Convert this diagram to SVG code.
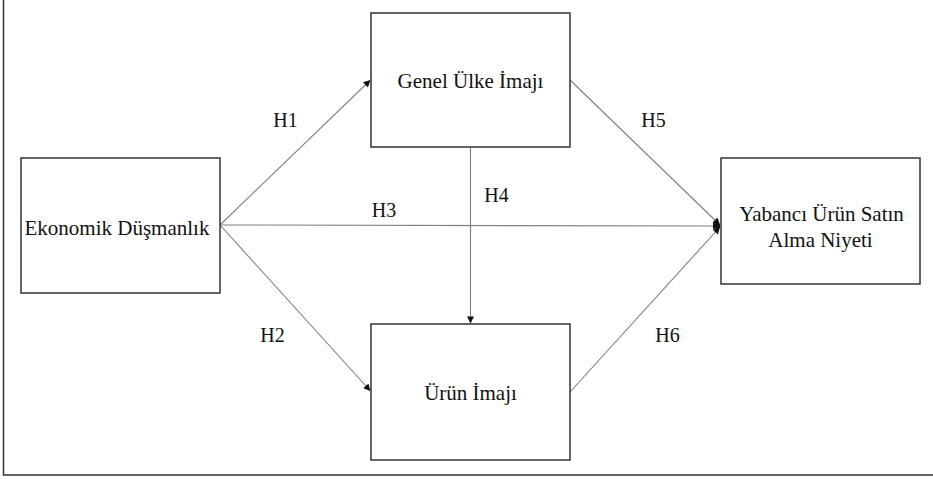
<svg xmlns="http://www.w3.org/2000/svg" width="933" height="479" viewBox="0 0 933 479">
<defs>
<style>
.box{fill:#fff;stroke:#333;stroke-width:1.5}
.ln{stroke:#808080;stroke-width:1.1;fill:none}
.t{font-family:"Liberation Serif","Times New Roman",serif;font-size:21px;fill:#111;text-anchor:middle}
.h{font-family:"Liberation Serif","Times New Roman",serif;font-size:20px;fill:#111;text-anchor:middle}
</style>
<marker id="ar" viewBox="0 0 10 10" refX="10" refY="5" markerWidth="9" markerHeight="7" markerUnits="userSpaceOnUse" orient="auto">
<path d="M0,0 L10,5 L0,10 z" fill="#111"/>
</marker>
</defs>
<rect width="933" height="479" fill="#fff"/>
<g id="frame" fill="none" stroke="#333" stroke-width="1.5">
<path d="M3.5,0 V475 H933"/>
</g>
<g id="connectors">
<line class="ln" x1="220" y1="225" x2="370.5" y2="80" marker-end="url(#ar)"/>
<line class="ln" x1="220" y1="225" x2="370.5" y2="391" marker-end="url(#ar)"/>
<line class="ln" x1="220" y1="225" x2="720" y2="226" marker-end="url(#ar)"/>
<line class="ln" x1="470.5" y1="147" x2="470.5" y2="323.5" marker-end="url(#ar)"/>
<line class="ln" x1="570" y1="80" x2="720" y2="225" marker-end="url(#ar)"/>
<line class="ln" x1="570" y1="392" x2="720" y2="227" marker-end="url(#ar)"/>
<circle cx="717" cy="226" r="3" fill="#111"/>
<text class="h" x="285.5" y="127">H1</text>
<text class="h" x="272.5" y="342">H2</text>
<text class="h" x="384" y="217">H3</text>
<text class="h" x="496.5" y="202">H4</text>
<text class="h" x="653.5" y="127">H5</text>
<text class="h" x="667.5" y="342">H6</text>
</g>
<g id="ekonomik">
<rect class="box" x="21" y="158" width="199" height="135"/>
<text class="t" x="117" y="235">Ekonomik Düşmanlık</text>
</g>
<g id="genel">
<rect class="box" x="371" y="13" width="199" height="134"/>
<text class="t" x="470.5" y="88">Genel Ülke İmajı</text>
</g>
<g id="urun">
<rect class="box" x="371" y="324" width="199" height="136"/>
<text class="t" x="470.5" y="400">Ürün İmajı</text>
</g>
<g id="yabanci">
<rect class="box" x="721" y="158" width="199" height="126"/>
<text class="t" x="821.5" y="221">Yabancı Ürün Satın</text>
<text class="t" x="820.5" y="247">Alma Niyeti</text>
</g>
</svg>
